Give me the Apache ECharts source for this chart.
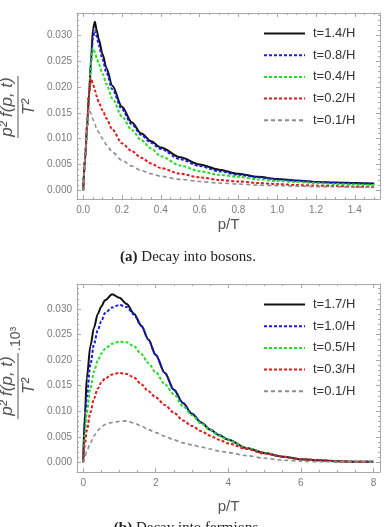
<!DOCTYPE html>
<html>
<head>
<meta charset="utf-8">
<script src="https://cdn.jsdelivr.net/npm/echarts@6/dist/echarts.min.js"></script>
<style>
  html, body { margin: 0; padding: 0; background: #fff; }
  #main { width: 384px; height: 527px; }
</style>
</head>
<body>
<div id="main"></div>
<script>
// (a) decay into bosons
const xA = [0, 0.01, 0.02, 0.03, 0.04, 0.05, 0.06, 0.07, 0.08, 0.1, 0.12, 0.15, 0.2, 0.25, 0.3, 0.35, 0.4, 0.5, 0.6, 0.7, 0.8, 0.9, 1.0, 1.1, 1.2, 1.3, 1.4, 1.5];
const blackA = [0, 0.0062, 0.0124, 0.0186, 0.0248, 0.0312, 0.0327, 0.031, 0.0293, 0.0264, 0.0237, 0.0203, 0.0162, 0.0132, 0.011, 0.0095, 0.0083, 0.0064, 0.005, 0.004, 0.0032, 0.0026, 0.0022, 0.0019, 0.0016, 0.0015, 0.0014, 0.0013];
const blueA = [0, 0.0062, 0.0124, 0.0186, 0.0248, 0.0295, 0.031, 0.0298, 0.0282, 0.0254, 0.0228, 0.0196, 0.0157, 0.0128, 0.0107, 0.0092, 0.008, 0.006, 0.0047, 0.0037, 0.003, 0.0025, 0.0021, 0.0018, 0.0016, 0.0014, 0.0013, 0.0012];
const greenA = [0, 0.0062, 0.0124, 0.0186, 0.0248, 0.0276, 0.0268, 0.0256, 0.0245, 0.0226, 0.0206, 0.0178, 0.0143, 0.0117, 0.0097, 0.0081, 0.0066, 0.0048, 0.0037, 0.003, 0.0026, 0.0021, 0.0018, 0.0016, 0.0014, 0.0012, 0.0011, 0.001];
const redA = [0, 0.0062, 0.0124, 0.0186, 0.0218, 0.0207, 0.0194, 0.0182, 0.0171, 0.0155, 0.0139, 0.0118, 0.0091, 0.0076, 0.0063, 0.0052, 0.0043, 0.0032, 0.0025, 0.002, 0.0017, 0.0014, 0.0012, 0.001, 0.0009, 0.0008, 0.0007, 0.0006];
const grayA = [0, 0.0062, 0.0124, 0.0158, 0.0149, 0.0138, 0.0128, 0.0119, 0.0112, 0.01, 0.0088, 0.0074, 0.0058, 0.0047, 0.0038, 0.0032, 0.0027, 0.0021, 0.0017, 0.0014, 0.0012, 0.001, 0.0009, 0.0008, 0.0007, 0.0007, 0.0006, 0.0006];
const namesA = ['t=1.4/H', 't=0.8/H', 't=0.4/H', 't=0.2/H', 't=0.1/H'];

// (b) decay into fermions
const xB = [0, 0.05, 0.1, 0.2, 0.3, 0.4, 0.5, 0.6, 0.8, 1.0, 1.2, 1.4, 1.6, 1.8, 2.0, 2.25, 2.5, 2.75, 3.0, 3.25, 3.5, 3.75, 4.0, 4.5, 5.0, 5.5, 6.0, 6.5, 7.0, 7.5, 8.0];
const blackB = [0, 0.0098, 0.0165, 0.0228, 0.0264, 0.029, 0.0305, 0.0317, 0.0329, 0.0322, 0.031, 0.0291, 0.0268, 0.024, 0.021, 0.0175, 0.0142, 0.0116, 0.0095, 0.0078, 0.0064, 0.0053, 0.0044, 0.0028, 0.0018, 0.0011, 0.0006, 0.0004, 0.0002, 0.0001, 0.0001];
const blueB = [0, 0.0075, 0.0128, 0.0192, 0.0232, 0.0258, 0.0276, 0.0292, 0.0303, 0.0308, 0.0304, 0.0289, 0.0267, 0.024, 0.021, 0.0175, 0.0142, 0.0116, 0.0095, 0.0078, 0.0064, 0.0053, 0.0044, 0.0028, 0.0018, 0.0011, 0.0006, 0.0004, 0.0002, 0.0001, 0.0001];
const greenB = [0, 0.0055, 0.0097, 0.0145, 0.0178, 0.0199, 0.0213, 0.0222, 0.0232, 0.0236, 0.0235, 0.0227, 0.0212, 0.0194, 0.0176, 0.0153, 0.0133, 0.011, 0.0092, 0.0076, 0.0063, 0.0052, 0.0043, 0.0028, 0.0018, 0.0011, 0.0006, 0.0004, 0.0002, 0.0001, 0.0001];
const redB = [0, 0.0035, 0.0062, 0.0098, 0.0125, 0.0144, 0.0156, 0.0164, 0.0172, 0.0175, 0.0173, 0.0166, 0.0153, 0.0139, 0.0127, 0.0112, 0.0097, 0.0082, 0.0071, 0.0061, 0.0052, 0.0044, 0.0037, 0.0026, 0.0017, 0.0011, 0.0006, 0.0004, 0.0002, 0.0001, 0.0001];
const grayB = [0, 0.0012, 0.0022, 0.0038, 0.0052, 0.0062, 0.0069, 0.0074, 0.0078, 0.008, 0.0081, 0.0077, 0.0071, 0.0064, 0.0058, 0.0051, 0.0044, 0.0038, 0.0034, 0.003, 0.0026, 0.0022, 0.0019, 0.0013, 0.0008, 0.0004, 0.0002, 0.0001, 0.0001, 0.0001, 0.0001];
const namesB = ['t=1.7/H', 't=1.0/H', 't=0.5/H', 't=0.3/H', 't=0.1/H'];

// ticks
const xTicksA = [0, 0.2, 0.4, 0.6, 0.8, 1.0, 1.2, 1.4];
const xTicksB = [0, 2, 4, 6, 8];
const yTicks = [0, 0.005, 0.01, 0.015, 0.02, 0.025, 0.03];

const colors = ['#111111', '#1a1ae6', '#22dd22', '#e01a1a', '#8c8c8c'];
const dashes = ['solid', [3, 2], [3, 2], [3, 2], [4, 3]];
const widths = [2, 2, 2, 2, 1.6];

const frameColor = '#a8a8a8';
const labelColor = '#7a7a7a';

function minorOf(step, min, max) {
    let out = [];
    let n = Math.round((max - min) / step);
    for (let i = 0; i <= n; i++) {
        out.push(+(min + i * step).toFixed(6));
    }
    return out;
}

// four axes per direction: labelled side, its minor ticks, opposite side, its minor ticks
function makeAxes(dir, grid, min, max, major, minor, fmt, name, nameGap) {
    const isX = dir === 'x';
    const pos = isX ? ['bottom', 'top'] : ['left', 'right'];
    const base = {
        type: 'value', gridIndex: grid, min: min, max: max,
        splitLine: {show: false}
    };
    const main = Object.assign({}, base, {
        position: pos[0],
        axisLine: {show: true, onZero: false, lineStyle: {color: frameColor, width: 1}},
        axisTick: {show: true, inside: true, length: 4, customValues: major, lineStyle: {color: frameColor}},
        axisLabel: {show: true, customValues: major, formatter: fmt, color: labelColor,
            fontFamily: 'Liberation Sans', fontSize: 10, margin: isX ? 6 : 5}
    });
    if (name) {
        Object.assign(main, {
            name: name, nameLocation: 'middle', nameGap: nameGap,
            nameTextStyle: {fontFamily: 'Liberation Sans', fontSize: 15, color: '#555'}
        });
    }
    const mk = (p, len, vals, line) => Object.assign({}, base, {
        position: p,
        axisLine: {show: line, onZero: false, lineStyle: {color: frameColor, width: 1}},
        axisTick: {show: true, inside: true, length: len, customValues: vals, lineStyle: {color: frameColor}},
        axisLabel: {show: false}
    });
    return [main, mk(pos[0], 2, minor, false), mk(pos[1], 4, major, true), mk(pos[1], 2, minor, false)];
}

const minorXA = minorOf(0.05, 0, 1.5);
const minorXB = minorOf(0.5, 0, 8);
const minorY = minorOf(0.001, 0, 0.034);

const xAxes = [].concat(
    makeAxes('x', 0, -0.032, 1.53, xTicksA, minorXA, v => v.toFixed(1), 'p/T', 18),
    makeAxes('x', 1, -0.17, 8.18, xTicksB, minorXB, v => String(v), 'p/T', 27)
);
const yAxes = [].concat(
    makeAxes('y', 0, -0.0017, 0.0344, yTicks, minorY, v => v.toFixed(3)),
    makeAxes('y', 1, -0.0019, 0.0349, yTicks, minorY, v => v.toFixed(3))
);

function zip(xs, ys) {
    return xs.map((x, i) => [x, ys[i]]);
}

function makeSeries(xs, list, names, axisIdx) {
    return list.map((ys, i) => ({
        name: names[i],
        type: 'line',
        xAxisIndex: axisIdx,
        yAxisIndex: axisIdx,
        data: zip(xs, ys),
        showSymbol: false,
        symbol: 'none',
        smooth: 0.3,
        smoothMonotone: 'x',
        silent: true,
        z: 2 + i,
        lineStyle: {color: colors[i], width: widths[i], type: dashes[i]},
        itemStyle: {color: colors[i]}
    }));
}

const series = [].concat(
    makeSeries(xA, [blackA, blueA, greenA, redA, grayA], namesA, 0),
    makeSeries(xB, [blackB, blueB, greenB, redB, grayB], namesB, 4)
);

function legendAt(top, names) {
    return {
        data: names,
        orient: 'vertical',
        left: 263,
        top: top,
        padding: 0,
        itemWidth: 41,
        itemHeight: 14,
        itemGap: 8.7,
        selectedMode: false,
        itemStyle: {opacity: 0},
        textStyle: {fontFamily: 'Liberation Sans', fontSize: 13, color: '#333', padding: [0, 0, 0, 3]}
    };
}

function yTitle(cx, cy, half, extra) {
    const children = [
        {type: 'line', shape: {x1: -half, y1: 0, x2: half, y2: 0}, style: {stroke: '#555', lineWidth: 1}},
        {type: 'text', x: 0, y: -2, style: {text: 'p² f(p, t)', fontFamily: 'Liberation Sans', fontStyle: 'italic',
            fontSize: 17, fill: '#555', align: 'center', verticalAlign: 'bottom'}},
        {type: 'text', x: 0, y: 3, style: {text: 'T²', fontFamily: 'Liberation Sans', fontStyle: 'italic',
            fontSize: 17, fill: '#555', align: 'center', verticalAlign: 'top'}}
    ];
    if (extra) {
        children.push({type: 'text', x: half + 2, y: -2, style: {text: extra, fontFamily: 'Liberation Sans',
            fontSize: 14, fill: '#555', align: 'left', verticalAlign: 'middle'}});
    }
    return {type: 'group', x: cx, y: cy, rotation: Math.PI / 2, children: children};
}

function caption(y, tag, text) {
    return {
        type: 'text', x: 188, y: y,
        style: {
            text: '{b|' + tag + '} ' + text,
            align: 'center', verticalAlign: 'top',
            fontFamily: 'Liberation Serif', fontSize: 15, fill: '#222',
            rich: {b: {fontFamily: 'Liberation Serif', fontSize: 15, fontWeight: 'bold', fill: '#222'}}
        }
    };
}

let chart = echarts.init(document.getElementById('main'), null, {renderer: 'canvas'});

let option = {
    backgroundColor: '#fff',
    animation: false,
    grid: [
        {left: 77, top: 13, width: 303, height: 186},
        {left: 77, top: 284, width: 303, height: 188}
    ],
    xAxis: xAxes,
    yAxis: yAxes,
    legend: [legendAt(27, namesA), legendAt(298, namesB)],
    graphic: [
        yTitle(18, 107, 31),
        yTitle(18, 386, 33, '.10³'),
        caption(250, '(a)', 'Decay into bosons.'),
        caption(521, '(b)', 'Decay into fermions.')
    ],
    series: series
};

chart.setOption(option);
</script>
</body>
</html>
